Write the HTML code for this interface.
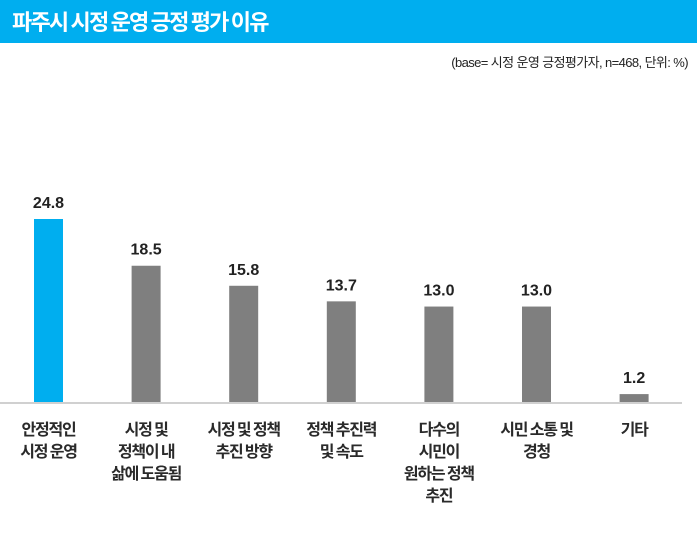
<!DOCTYPE html>
<html><head><meta charset="utf-8"><style>
body{margin:0;width:700px;height:553px;background:#fff;overflow:hidden;font-family:"Liberation Sans","Noto Sans CJK KR",sans-serif;}
#banner{position:absolute;left:0;top:0;width:697px;height:43px;background:#00aeef;}
#title{position:absolute;left:12px;top:5px;color:#fff;font-size:22px;font-weight:bold;letter-spacing:-1.8px;font-family:"Noto Sans CJK KR",sans-serif;}
#note{position:absolute;right:12px;top:52px;font-size:13px;color:#222;letter-spacing:-0.6px;}
svg{position:absolute;left:0;top:0;}
</style></head><body>
<div id="banner"><div id="title">파주시 시정 운영 긍정 평가 이유</div></div>
<div id="note">(base= 시정 운영 긍정평가자, n=468, 단위: %)</div>
<svg id="chart" width="700" height="553"></svg>
<script>
const categories=[["안정적인","시정 운영"],["시정 및","정책이 내","삶에 도움됨"],["시정 및 정책","추진 방향"],["정책 추진력","및 속도"],["다수의","시민이","원하는 정책","추진"],["시민 소통 및","경청"],["기타"]];
const values=[24.8,18.5,15.8,13.7,13.0,13.0,1.2];
const labels=["24.8","18.5","15.8","13.7","13.0","13.0","1.2"];
const colors=["#00aeef","#7f7f7f","#7f7f7f","#7f7f7f","#7f7f7f","#7f7f7f","#7f7f7f"];
const NS="http://www.w3.org/2000/svg";
const svg=document.getElementById('chart');
const base=403, pxPerUnit=184/24.8, x0=48.5, step=97.6, bw=29;
const xs=i=>x0+i*step;
const ys=v=>base-v*pxPerUnit;
function mk(t,a){const e=document.createElementNS(NS,t);for(const k in a)e.setAttribute(k,a[k]);svg.appendChild(e);return e;}
values.forEach((v,i)=>{
  const r=mk('rect',{x:xs(i)-bw/2,y:ys(v),width:bw,height:base-ys(v),fill:colors[i]});
  
  
  const t=mk('text',{x:xs(i),y:ys(v)-11,'text-anchor':'middle','font-size':'16','font-weight':'bold',fill:'#222','font-family':'Liberation Sans,sans-serif'});
  t.textContent=labels[i];
  
  
  const g=mk('text',{x:xs(i),'text-anchor':'middle','font-size':'16','font-weight':'bold',fill:'#2a2a2a','font-family':'Noto Sans CJK KR,sans-serif','letter-spacing':'-1.2'});
  
  
  categories[i].forEach((ln,j)=>{const s=document.createElementNS(NS,'tspan');s.setAttribute('x',xs(i));s.setAttribute('y',435+j*22);s.textContent=ln;g.appendChild(s);});
});
const ax=mk('line',{x1:0,x2:682,y1:base,y2:base,stroke:'#d0d0d0','stroke-width':2});


</script>
</body></html>
